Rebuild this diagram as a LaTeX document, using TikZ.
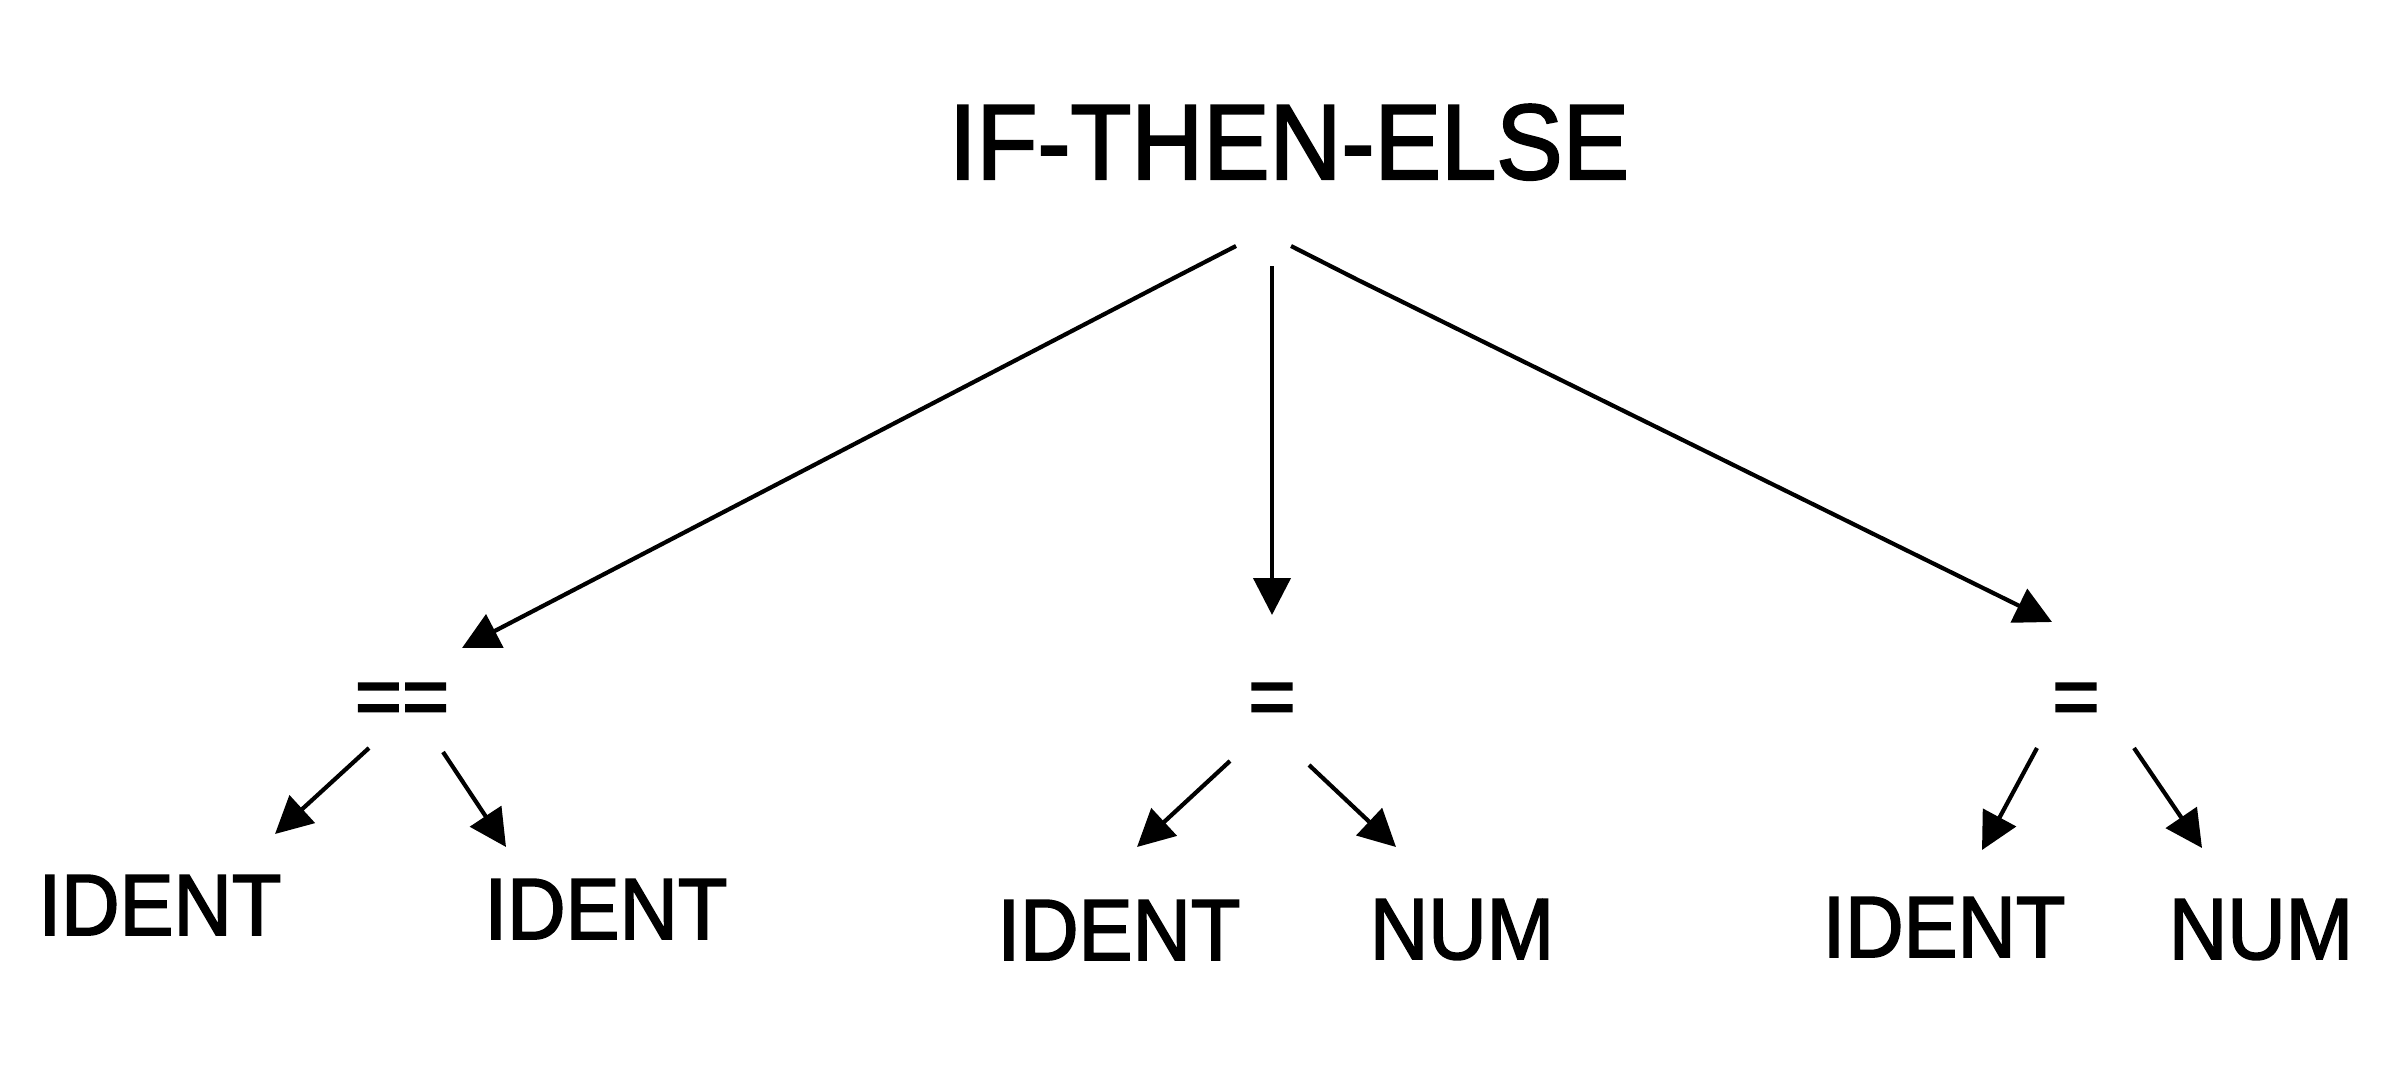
\documentclass[tikz,border=0pt]{standalone}
\usepackage{fontspec}
\setmainfont{Liberation Sans}
\newfontfamily\diagfont[FakeStretch=0.93,FakeBold=2]{Liberation Sans}
\usetikzlibrary{arrows.meta}
\begin{document}
\begin{tikzpicture}[x=1pt,y=-1pt,
  toplabel/.style={anchor=base,inner sep=0pt,font=\diagfont\fontsize{107}{120}\selectfont},
  oplabel/.style={anchor=base,inner sep=0pt,font=\diagfont\fontsize{87}{100}\selectfont},
  leaflabel/.style={anchor=base,inner sep=0pt,font=\diagfont\fontsize{87}{100}\selectfont},
  edge/.style={line width=4.2pt,-{Triangle[length=37pt,width=37pt]}},
]
\useasboundingbox (0,0) rectangle (2398,1070);
\fill[white] (0,0) rectangle (2398,1070);

\node[toplabel] (root) at (1289,179) {IF-THEN-ELSE};

\node[oplabel] (eqeq) at (402,726) {==};
\node[oplabel] (eqa) at (1272,726) {=};
\node[oplabel] (eqb) at (2076,726) {=};

\node[leaflabel] (id1) at (160,935) {IDENT};
\node[leaflabel] (id2) at (606,939) {IDENT};
\node[leaflabel] (id3) at (1119,960) {IDENT};
\node[leaflabel] (num1) at (1462,959) {NUM};
\node[leaflabel] (id4) at (1944,957) {IDENT};
\node[leaflabel] (num2) at (2261,959) {NUM};

% top connector ends
\coordinate (r1s) at (1236,246);
\coordinate (r1k) at (1170,280);
\coordinate (r1e) at (462,648);
\coordinate (r2s) at (1272,266);
\coordinate (r2e) at (1272,615);
\coordinate (r3s) at (1291,246);
\coordinate (r3k) at (1358,280);
\coordinate (r3e) at (2052,622);

\draw[edge] (r1s) -- (r1k) -- (r1e);
\draw[edge] (r2s) -- (r2e);
\draw[edge] (r3s) -- (r3k) -- (r3e);

% second level
\coordinate (a1s) at (369,748);
\coordinate (a1e) at (275,834);
\coordinate (a2s) at (443,752);
\coordinate (a2e) at (506,847);
\coordinate (b1s) at (1230,761);
\coordinate (b1e) at (1137,847);
\coordinate (b2s) at (1309,765);
\coordinate (b2e) at (1396,847);
\coordinate (c1s) at (2037,748);
\coordinate (c1e) at (1982,850);
\coordinate (c2s) at (2134,748);
\coordinate (c2e) at (2202,848);

\draw[edge] (a1s) -- (a1e);
\draw[edge] (a2s) -- (a2e);
\draw[edge] (b1s) -- (b1e);
\draw[edge] (b2s) -- (b2e);
\draw[edge] (c1s) -- (c1e);
\draw[edge] (c2s) -- (c2e);
\end{tikzpicture}
\end{document}
